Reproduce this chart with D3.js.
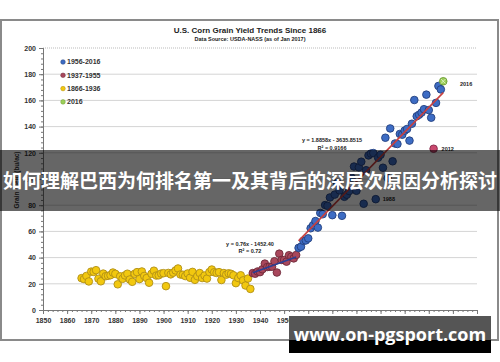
<!DOCTYPE html>
<html>
<head>
<meta charset="utf-8">
<script src="https://cdn.jsdelivr.net/npm/d3@7"></script>
<style>
  body { margin: 0; background: #fff; }
  svg { display: block; font-family: 'Liberation Sans', Arial, sans-serif; }
</style>
</head>
<body>
<script>
// yields in bu/ac
const yearsEarly = d3.range(1866, 1937)
const yieldsEarly = [24.3, 23.6, 26.0, 21.8, 29.3, 29.1, 30.4, 23.9, 21.9, 27.8, 25.8, 26.1, 26.6, 28.6, 27.6,
  19.6, 25.7, 23.8, 26.4, 27.7, 23.3, 21.5, 27.6, 28.9, 23.6, 29.4, 26.0, 24.4, 20.8, 27.6,
  30.0, 26.3, 26.5, 27.8, 28.1, 18.2, 28.3, 27.2, 28.5, 30.2, 31.7, 27.1, 26.9, 25.9, 27.9,
  24.6, 29.1, 23.0, 25.8, 28.2, 24.4, 26.3, 24.0, 28.9, 30.9, 28.8, 28.3, 28.9, 22.9, 28.2,
  27.0, 28.0, 27.6, 26.5, 20.5, 24.4, 26.5, 22.6, 18.7, 24.0, 16.1]
const yearsMid = d3.range(1937, 1956)
const yieldsMid = [28.2, 27.7, 29.4, 28.9, 31.1, 35.4, 32.8, 33.0, 33.1, 37.2, 28.6, 43.0, 38.2, 38.2,
  36.9, 41.8, 40.7, 39.4, 42.0]
const yearsRecent = d3.range(1956, 2016).filter(y => y !== 2012)
const yieldsRecent = [47.4, 48.3, 52.8, 53.1, 54.7, 62.4, 64.7, 67.9, 62.9, 74.1, 73.1, 80.1, 79.5, 85.9,
  72.4, 88.1, 97.0, 91.3, 71.9, 86.4, 88.0, 90.8, 101.0, 109.5, 91.0, 108.9, 113.2, 81.1, 106.7,
  118.0, 119.4, 119.8, 84.6, 116.3, 118.5, 108.6, 131.5, 100.7, 138.6, 113.5, 127.1, 126.7, 134.4,
  133.8, 136.9, 138.2, 129.3, 142.2, 160.3, 147.9, 149.1, 150.7, 153.3, 164.4, 152.6, 146.8,
  158.1, 171.0, 168.4]
const drought2012 = { year: 2012, value: 123.1 }
const latest2016 = { year: 2016, value: 174.6 }
const trendMid = [[1937, 28.5], [1955, 40.5]]
const trendRecent = [[1956, 52.8], [2016, 165.9]]
const yTicks = [0, 20, 40, 60, 80, 100, 120, 140, 160, 180, 200]
const xTicks = d3.range(1850, 2031, 10)
const legendItems = [
  { label: '1956-2016', fill: '#3d6cc4', stroke: '#22407e' },
  { label: '1937-1955', fill: '#a9475c', stroke: '#6e2a3a' },
  { label: '1866-1936', fill: '#f2c80f', stroke: '#b08f16' },
  { label: '2016', fill: '#9ccf5a', stroke: '#6c9a33' }
]

const W = 500
const H = 362
const svg = d3.select('body').append('svg').attr('width', W).attr('height', H)

// frame
svg.append('rect').attr('x', 1).attr('y', 20).attr('width', 497).attr('height', 320)
  .attr('fill', '#fff').attr('stroke', '#8a8a8a').attr('stroke-width', 2)

const x = d3.scaleLinear().domain([1850, 2030]).range([43, 477])
const y = d3.scaleLinear().domain([0, 200]).range([310, 48])

// gridlines
svg.append('g').selectAll('line').data(yTicks.filter(d => d > 0)).join('line')
  .attr('x1', x(1850)).attr('x2', x(2030))
  .attr('y1', d => y(d)).attr('y2', d => y(d))
  .attr('stroke', d => d === 200 ? '#bbb' : '#d4d4d4')
  .attr('stroke-dasharray', d => d === 200 ? '1,1' : null)

// axes
const yAxis = svg.append('g').attr('transform', `translate(${x(1850)},0)`)
  .call(d3.axisLeft(y).tickValues(yTicks).tickSize(4).tickPadding(3))
const yMinor = svg.append('g').attr('transform', `translate(${x(1850)},0)`)
  .call(d3.axisLeft(y).tickValues(d3.range(0, 201, 4)).tickSize(2).tickFormat(''))
const xAxis = svg.append('g').attr('transform', `translate(0,${y(0)})`)
  .call(d3.axisBottom(x).tickValues(xTicks).tickFormat(d3.format('d')).tickSize(4).tickPadding(4))
const xMinor = svg.append('g').attr('transform', `translate(0,${y(0)})`)
  .call(d3.axisBottom(x).tickValues(d3.range(1850, 2031, 2)).tickSize(2).tickFormat(''))
for (const g of [yAxis, yMinor, xAxis, xMinor]) {
  g.select('.domain').attr('stroke', '#777')
  g.selectAll('line').attr('stroke', '#777')
  g.selectAll('text').attr('fill', '#333').attr('font-size', 7).attr('font-weight', 'bold')
}

// axis title (mostly under the banner)
svg.append('text').attr('transform', 'translate(19,180) rotate(-90)')
  .attr('text-anchor', 'middle').attr('font-size', 6.5).attr('font-weight', 'bold').attr('fill', '#333')
  .text('Grain Yield (bu/ac)')

// title
svg.append('text').attr('x', 250).attr('y', 33).attr('text-anchor', 'middle')
  .attr('font-size', 8).attr('font-weight', 'bold').attr('fill', '#222')
  .text('U.S. Corn Grain Yield Trends Since 1866')
svg.append('text').attr('x', 250).attr('y', 41).attr('text-anchor', 'middle')
  .attr('font-size', 5.5).attr('font-weight', 'bold').attr('fill', '#222')
  .text('Data Source: USDA-NASS (as of Jan 2017)')

// points
function dots (years, values, c) {
  svg.append('g').selectAll('circle').data(years.map((yr, i) => [yr, values[i]])).join('circle')
    .attr('cx', d => x(d[0])).attr('cy', d => y(d[1])).attr('r', 3.8)
    .attr('fill', c.fill).attr('stroke', c.stroke).attr('stroke-width', 0.9)
}
dots(yearsEarly, yieldsEarly, legendItems[2])
dots(yearsMid, yieldsMid, legendItems[1])
dots(yearsRecent, yieldsRecent, legendItems[0])

// trend lines
const line = d3.line().x(d => x(d[0])).y(d => y(d[1]))
svg.append('path').datum(trendMid).attr('d', line).attr('stroke', '#2a3f95').attr('stroke-width', 1.6).attr('fill', 'none')
svg.append('path').datum(trendRecent).attr('d', line).attr('stroke', '#c8403f').attr('stroke-width', 1.6).attr('fill', 'none')

// highlighted years
svg.append('circle').attr('cx', x(drought2012.year)).attr('cy', y(drought2012.value)).attr('r', 3.8)
  .attr('fill', '#c9486e').attr('stroke', '#85294a').attr('stroke-width', 0.9)
const g16 = svg.append('g').attr('transform', `translate(${x(latest2016.year)},${y(latest2016.value)})`)
g16.append('circle').attr('r', 3.8).attr('fill', legendItems[3].fill).attr('stroke', legendItems[3].stroke).attr('stroke-width', 0.9)
g16.append('path').attr('d', 'M-2.2,-2.2L2.2,2.2M-2.2,2.2L2.2,-2.2').attr('stroke', '#e6f5d0').attr('stroke-width', 0.8)

// labels
const lab = (tx, ty, s, anchor = 'start') => svg.append('text').attr('x', tx).attr('y', ty)
  .attr('text-anchor', anchor).attr('font-size', 5.5).attr('font-weight', 'bold').attr('fill', '#222').text(s)
lab(x(2012) + 8, y(drought2012.value) + 2, '2012')
lab(460, 86, '2016')
lab(x(1988) + 7, y(84.6) + 2, '1988')
lab(332, 142, 'y = 1.8858x - 3635.8515', 'middle')
lab(332, 150, 'R² = 0.9166', 'middle')
lab(250, 246, 'y = 0.76x - 1452.40', 'middle')
lab(250, 253, 'R² = 0.72', 'middle')

// legend
const leg = svg.append('g').selectAll('g').data(legendItems).join('g')
  .attr('transform', (d, i) => `translate(63,${62 + i * 13.3})`)
leg.append('circle').attr('r', 2.3).attr('fill', d => d.fill).attr('stroke', d => d.stroke).attr('stroke-width', 0.5)
leg.append('text').attr('x', 4).attr('y', 2.4).attr('font-size', 7).attr('font-weight', 'bold').attr('fill', '#333')
  .text(d => d.label)

// banner overlay
svg.append('rect').attr('x', 0).attr('y', 150).attr('width', W).attr('height', 61).attr('fill', 'rgba(0,0,0,0.6)')
svg.append('text').attr('x', 250).attr('y', 188).attr('text-anchor', 'middle')
  .attr('font-family', "'Noto Sans CJK SC', sans-serif").attr('font-size', 19).attr('font-weight', 'bold')
  .attr('fill', '#fff').text('如何理解巴西为何排名第一及其背后的深层次原因分析探讨')

// watermark
svg.append('rect').attr('x', 289).attr('y', 316).attr('width', 202).attr('height', 24).attr('fill', '#555')
svg.append('rect').attr('x', 289).attr('y', 340).attr('width', 202).attr('height', 13).attr('fill', '#000')
svg.append('text').attr('x', 390).attr('y', 341).attr('text-anchor', 'middle')
  .attr('font-family', "'Open Sans', sans-serif").attr('font-size', 18).attr('font-weight', 'bold')
  .attr('fill', '#fff').text('www.on-pgsport.com')
</script>
</body>
</html>
